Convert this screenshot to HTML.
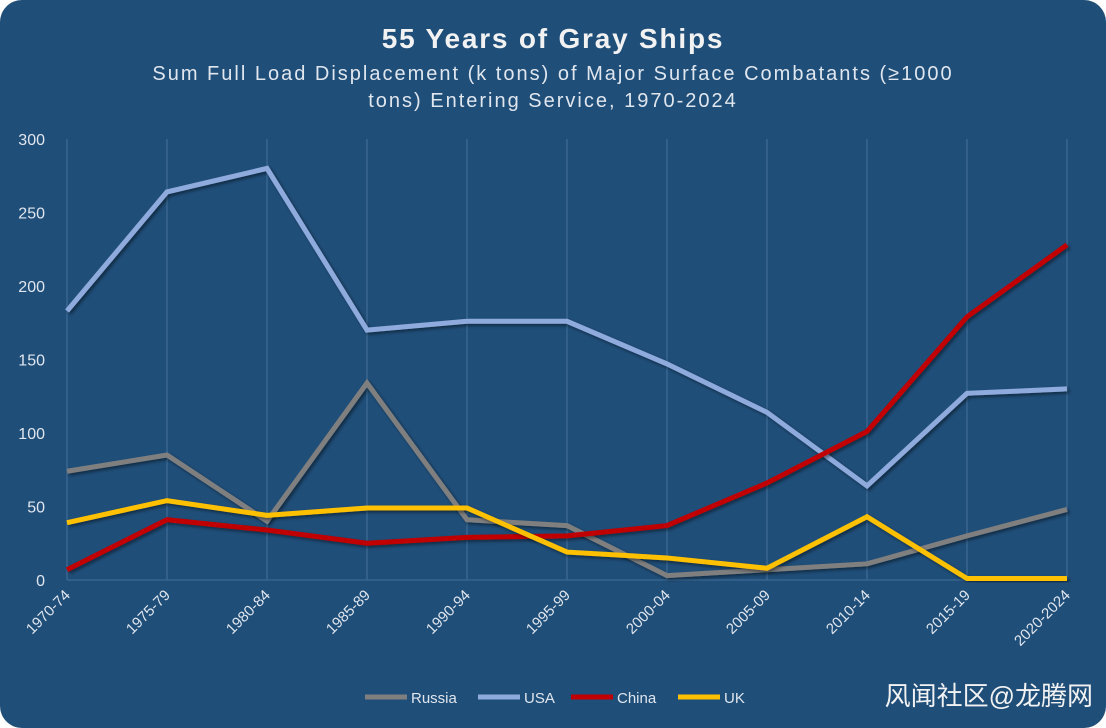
<!DOCTYPE html>
<html><head><meta charset="utf-8"><style>
body{margin:0;background:#fff;width:1106px;height:728px;overflow:hidden}
#card{position:absolute;left:0;top:0;width:1106px;height:728px;background:#1f4e79;border-radius:22px}
svg{position:absolute;left:0;top:0}
text{font-family:"Liberation Sans","Noto Sans CJK SC",sans-serif}
</style></head><body>
<div id="card"></div>
<svg id="chart" width="1106" height="728">
<defs><filter id="sh" x="-5%" y="-5%" width="110%" height="110%"><feDropShadow dx="2" dy="2" stdDeviation="1.5" flood-color="#000" flood-opacity="0.45"/></filter></defs>
<text x="553" y="48" text-anchor="middle" fill="#f2f2f2" font-size="28" font-weight="bold" letter-spacing="1.8">55 Years of Gray Ships</text>
<text x="553" y="80" text-anchor="middle" fill="#e0e6ee" font-size="20" letter-spacing="2">Sum Full Load Displacement (k tons) of Major Surface Combatants (≥1000</text>
<text x="553" y="107" text-anchor="middle" fill="#e0e6ee" font-size="20" letter-spacing="2">tons) Entering Service, 1970-2024</text>
<g id="grid"></g><g id="yaxis"></g><g id="xaxis"></g><g id="series"></g><g id="legend"></g>
<text x="1093" y="705" text-anchor="end" fill="#f2f2f2" font-size="26">风闻社区@龙腾网</text>
</svg>
<script>
const categories=["1970-74","1975-79","1980-84","1985-89","1990-94","1995-99","2000-04","2005-09","2010-14","2015-19","2020-2024"];
const yTicks=[0,50,100,150,200,250,300];
const russia=[74,85,40,134,41,37,3,7,11,30,48];
const usa=[183,264,280,170,176,176,147,114,64,127,130];
const china=[7,41,34,25,29,30,37,66,101,179,228];
const uk=[39,54,44,49,49,19,15,8,43,1,1];
const seriesNames=["Russia","USA","China","UK"];
const seriesColors=["#7f7f7f","#8faadc","#c00000","#ffc000"];
const seriesData=[russia,usa,china,uk];
const NS="http://www.w3.org/2000/svg";
const x0=67,x1=1067,y0=580,y1=139,yMax=300;
const xs=i=>x0+(x1-x0)*i/(categories.length-1);
const ys=v=>y0-(y0-y1)*v/yMax;
function mk(tag,attrs,parent){const e=document.createElementNS(NS,tag);for(const k in attrs)e.setAttribute(k,attrs[k]);parent.appendChild(e);return e;}
const grid=document.getElementById('grid'),ya=document.getElementById('yaxis'),xa=document.getElementById('xaxis'),sg=document.getElementById('series'),lg=document.getElementById('legend');
categories.forEach((c,i)=>{
  const l=mk('line',{x1:xs(i),x2:xs(i),y1:y1,y2:y0,stroke:'#3d6a93','stroke-width':1.3},grid);
  
  
  const t=mk('text',{x:xs(i)+4,y:y0+16,fill:'#e0e6ee','font-size':15,'text-anchor':'end',transform:`rotate(-45 ${xs(i)+4} ${y0+16})`},xa);
  t.textContent=c;
  
  
});
const base=mk('line',{x1:x0,x2:x1,y1:y0,y2:y0,stroke:'#3d6a93','stroke-width':1.3},grid);


yTicks.forEach(v=>{
  const t=mk('text',{x:45,y:ys(v)+6,fill:'#e0e6ee','font-size':16,'text-anchor':'end'},ya);
  t.textContent=v;
  
  
});
seriesData.forEach((d,s)=>{
  const p=mk('polyline',{points:d.map((v,i)=>xs(i)+','+ys(v)).join(' '),fill:'none',stroke:seriesColors[s],'stroke-width':5,'stroke-linejoin':'miter',filter:'url(#sh)'},sg);
  
  
});
const lx=[365,478,571,678];
seriesNames.forEach((n,s)=>{
  const g=mk('g',{},lg);
  
  
  mk('line',{x1:lx[s],x2:lx[s]+42,y1:697,y2:697,stroke:seriesColors[s],'stroke-width':5},g);
  const t=mk('text',{x:lx[s]+46,y:703,fill:'#e0e6ee','font-size':15},g);
  t.textContent=n;
});
</script>
</body></html>
